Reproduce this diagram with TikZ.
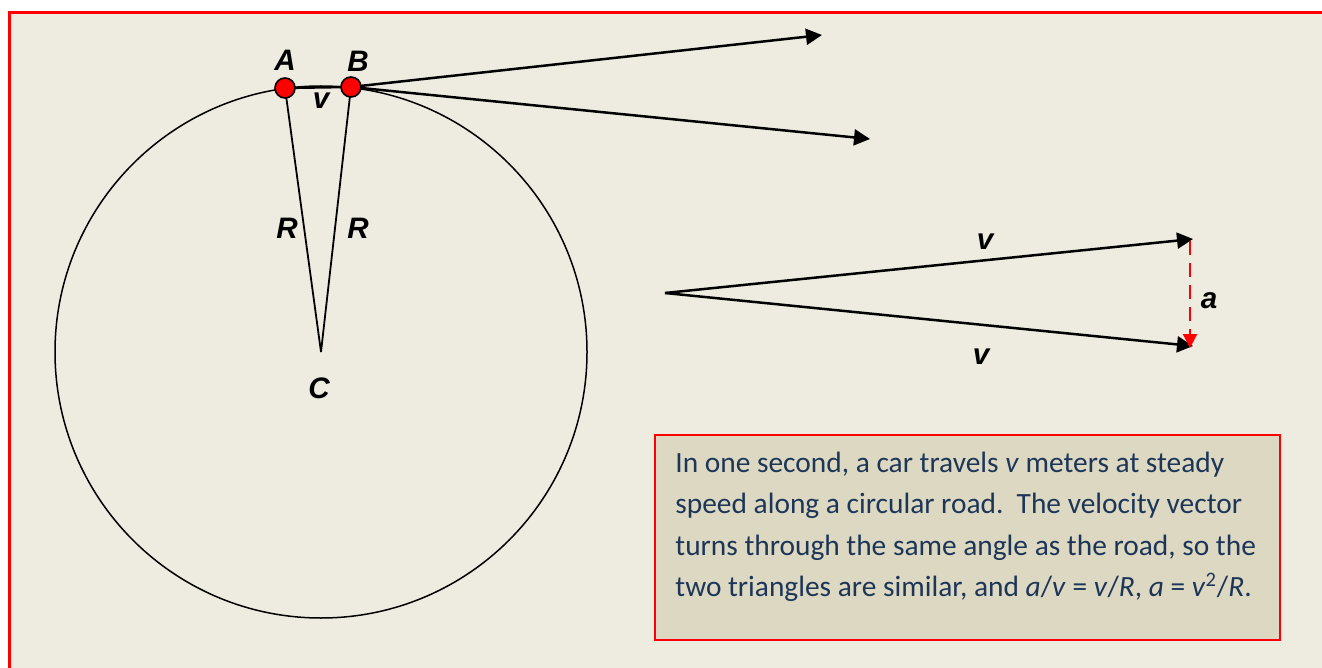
\documentclass[tikz,border=0pt]{standalone}
\usepackage{fontspec}
\setmainfont{Liberation Sans}
\newfontfamily\calib{Carlito}
\usetikzlibrary{arrows.meta}
\definecolor{bgbeige}{HTML}{EEEBE0}
\definecolor{boxfill}{HTML}{DDD8C2}
\definecolor{navy}{HTML}{1D3658}
\begin{document}
\begin{tikzpicture}[x=0.5pt,y=-0.5pt,
  lbl/.style={font=\fontsize{14.8}{16}\selectfont\bfseries\itshape, inner sep=0pt},
  vec/.style={line width=1.25pt, -{Triangle[length=8pt,width=8pt]}},
  seg/.style={line width=0.9pt},
  dot/.style={circle, fill=red, draw=black, line width=0.8pt, minimum size=10pt, inner sep=0pt},
  avec/.style={red, line width=1.1pt, dash pattern=on 7pt off 4pt, -{Triangle[length=7pt,width=7pt]}},
  txtbox/.style={draw=red, line width=1pt, fill=boxfill, minimum width=312.5pt, minimum height=102.5pt, inner sep=0pt}
]
\useasboundingbox (0,0) rectangle (1322,668);
\fill[white] (0,0) rectangle (1322,668);
\begin{scope}
\clip (0,0) rectangle (1322,668);
\draw[red, line width=1.5pt, fill=bgbeige] (9,12.5) rectangle (1345,690);
\end{scope}
% circle
\coordinate (C) at (321,352);
\node[circle, draw, line width=0.75pt, minimum size=266pt, inner sep=0pt] (road) at (C) {};
\coordinate (pA) at (285,88);
\coordinate (pB) at (351,87);
\coordinate (t1) at (822,35);
\coordinate (t2) at (870,139);
\draw[seg] (pA) -- (C);
\draw[seg] (pB) -- (C);
\draw[line width=1.2pt] (pA) -- (pB);
\draw[vec] (pB) -- (t1);
\draw[vec] (pB) -- (t2);
\node[dot] (A) at (pA) {};
\node[dot] (B) at (pB) {};
\node[lbl] (lA) at (285,60) {A};
\node[lbl] (lB) at (358,61) {B};
\node[lbl] (lv) at (321,101) {v};
\node[lbl] (lR1) at (287,228) {R};
\node[lbl] (lR2) at (358,228) {R};
\node[lbl] (lC) at (319,388) {C};
% velocity triangle
\coordinate (O) at (665,293);
\coordinate (P) at (1193,239);
\coordinate (Q) at (1193,346);
\draw[vec] (O) -- (P);
\draw[vec] (O) -- (Q);
\coordinate (ra) at (1190,241);
\coordinate (rb) at (1190,348);
\draw[avec] (ra) -- (rb);
\node[lbl] (lv1) at (985,242) {v};
\node[lbl] (lv2) at (981,357) {v};
\node[lbl] (la) at (1209,301) {a};
% text box
\node[txtbox, anchor=north west] (box) at (654,434) {};
\node[anchor=west, inner sep=0pt, align=left, text=navy,
  font=\calib\fontsize{14.7}{20.7}\selectfont] (txt) at (675,527)
{In one second, a car travels \textit{v} meters at steady\\
speed along a circular road.\ \ The velocity vector\\
turns through the same angle as the road, so the\\
two triangles are similar, and \textit{a}/\textit{v} = \textit{v}/\textit{R}, \textit{a} = \textit{v}\textsuperscript{2}/\textit{R}.};
\end{tikzpicture}
\end{document}
